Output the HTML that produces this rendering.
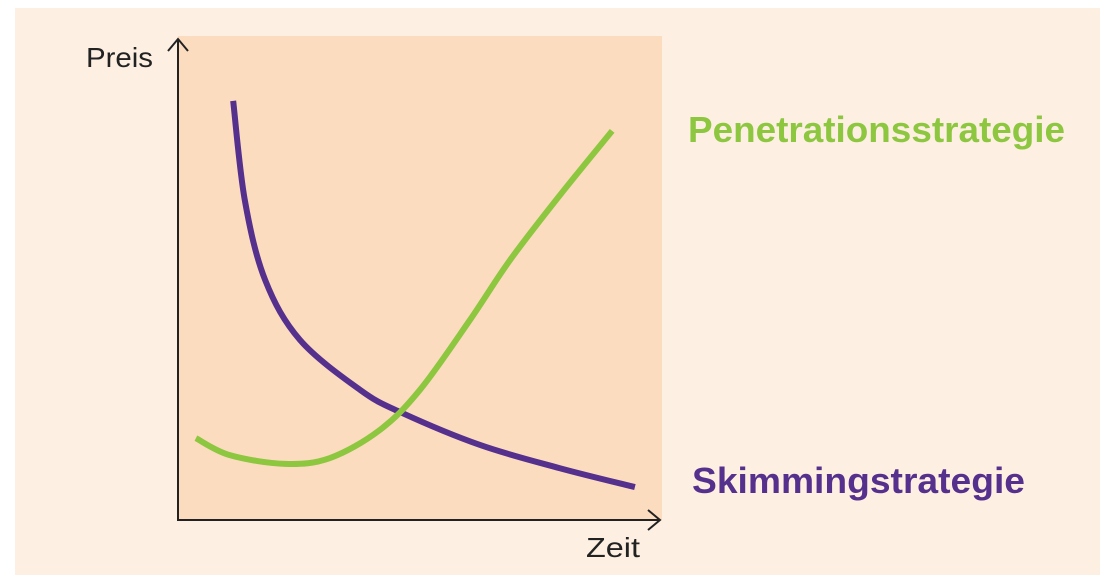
<!DOCTYPE html>
<html><head><meta charset="utf-8"><style>
body{margin:0;background:#fff;width:1108px;height:575px;overflow:hidden;font-family:"Liberation Sans",sans-serif}
</style></head><body>
<svg width="1108" height="575">
<rect x="15" y="8" width="1085" height="567" fill="#fdf0e2"/>
<rect x="178" y="36" width="484" height="484" fill="#fcdcbf"/>
<g stroke="#222" stroke-width="2" fill="none">
<line x1="178" y1="39" x2="178" y2="521"/>
<polyline points="168,51 178,39 188,51"/>
<line x1="177" y1="520" x2="660" y2="520"/>
<polyline points="648,510 660,520 648,530"/>
</g>
<text x="86" y="67" font-size="28" textLength="67" lengthAdjust="spacingAndGlyphs" fill="#222">Preis</text>
<text x="586" y="557" font-size="28" textLength="54" lengthAdjust="spacingAndGlyphs" fill="#222">Zeit</text>
<g id="series"></g>
<text x="688" y="142" font-size="36" font-weight="bold" textLength="377" lengthAdjust="spacingAndGlyphs" fill="#8dc63f">Penetrationsstrategie</text>
<text x="692" y="493" font-size="36" font-weight="bold" textLength="333" lengthAdjust="spacingAndGlyphs" fill="#55308d">Skimmingstrategie</text>
</svg>
<script>
const skimX=[11.4,13.8,18,25.2,37.6,45.9,62.4,78.9,94.4];
const skimY=[86.6,66.1,49.6,37.2,26.9,22.3,15.5,10.7,6.8];
const penX=[3.7,10.7,22.1,31.4,41.7,50,60.3,68.6,78.9,89.7];
const penY=[16.9,13.4,11.6,12.8,18.6,26.9,41.3,53.7,67.1,80.4];
function sx(v){return 178+v*4.84;}
function sy(v){return 520-v*4.84;}
function pathFrom(xs,ys){
  const p=xs.map((x,i)=>[sx(x),sy(ys[i])]);
  let d='M'+p[0][0]+','+p[0][1];
  for(let i=0;i<p.length-1;i++){
    const p0=p[Math.max(i-1,0)],p1=p[i],p2=p[i+1],p3=p[Math.min(i+2,p.length-1)];
    const c1=[p1[0]+(p2[0]-p0[0])/6,p1[1]+(p2[1]-p0[1])/6];
    const c2=[p2[0]-(p3[0]-p1[0])/6,p2[1]-(p3[1]-p1[1])/6];
    d+=' C'+c1+' '+c2+' '+p2;
  }
  return d;
}
const g=document.getElementById('series');
function add(xs,ys,color,name){
  const el=document.createElementNS('http://www.w3.org/2000/svg','path');
  el.setAttribute('d',pathFrom(xs,ys));
  el.setAttribute('fill','none');
  el.setAttribute('stroke',color);
  el.setAttribute('stroke-width','6');
  
  
  g.appendChild(el);
}
add(skimX,skimY,'#55308d','skimming-line');
add(penX,penY,'#8dc63f','penetration-line');
</script>
</body></html>
